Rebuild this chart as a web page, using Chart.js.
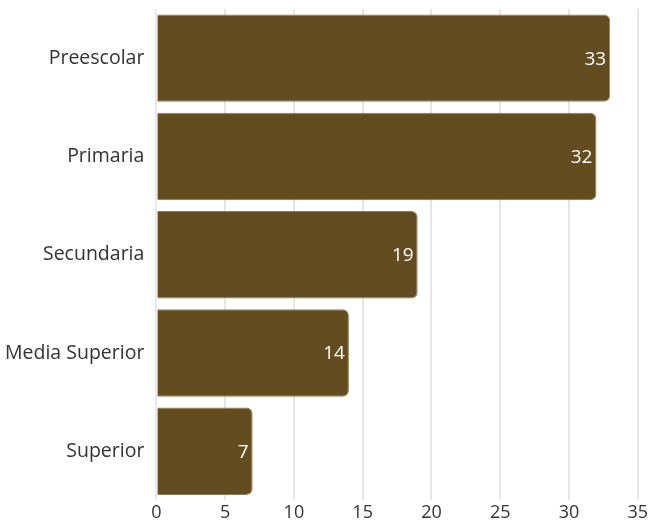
<!DOCTYPE html>
<html>
<head>
<meta charset="utf-8">
<script src="https://cdn.jsdelivr.net/npm/chart.js@4/dist/chart.umd.min.js"></script>
<style>
  html, body { margin: 0; padding: 0; background: #fff; }
  #wrap { width: 650px; height: 520px; }
</style>
</head>
<body>
<div id="wrap"><canvas id="nivelChart"></canvas></div>
<script>
const niveles = ["Preescolar", "Primaria", "Secundaria", "Media Superior", "Superior"];
const cantidades = [33, 32, 19, 14, 7];

// white value labels inside the bar end
const valueLabels = {
    id: "valueLabels",
    afterDatasetsDraw(chart) {
        const ctx = chart.ctx;
        const meta = chart.getDatasetMeta(0);
        ctx.save();
        ctx.fillStyle = "#ffffff";
        ctx.font = "19px 'Open Sans'";
        ctx.textAlign = "right";
        ctx.textBaseline = "middle";
        meta.data.forEach((bar, i) => {
            ctx.fillText(cantidades[i], bar.x - 4, bar.y + 1);
        });
        ctx.restore();
    }
};

const ctx = document.getElementById("nivelChart").getContext("2d");
new Chart(ctx, {
    type: "bar",
    data: {
        labels: niveles,
        datasets: [{
            data: cantidades,
            backgroundColor: "#634d20",
            borderColor: "#8c7b55",
            borderWidth: 1,
            borderRadius: 6,
            borderSkipped: "start",
            categoryPercentage: 0.89,
            barPercentage: 1
        }]
    },
    options: {
        indexAxis: "y",
        responsive: true,
        maintainAspectRatio: false,
        animation: false,
        layout: { padding: { top: 9, right: 2, bottom: -6, left: -7 } },
        plugins: {
            legend: { display: false },
            tooltip: { enabled: false }
        },
        scales: {
            x: {
                min: 0,
                max: 35,
                ticks: { stepSize: 5, color: "#333", font: { family: "'Open Sans'", size: 18 }, padding: 2 },
                grid: { color: "#e6e6e6", lineWidth: 2, drawTicks: false },
                border: { display: false }
            },
            y: {
                ticks: { color: "#333", font: { family: "'Open Sans'", size: 19.5 }, padding: 12 },
                grid: { display: false, drawTicks: false },
                border: { display: true, color: "#eeeeee" },
                // labels sit mid-band, no need for the extra edge padding
                afterFit(scale) {
                    scale.paddingTop = 0;
                    scale.paddingBottom = 0;
                }
            }
        }
    },
    plugins: [valueLabels]
});
</script>
</body>
</html>
